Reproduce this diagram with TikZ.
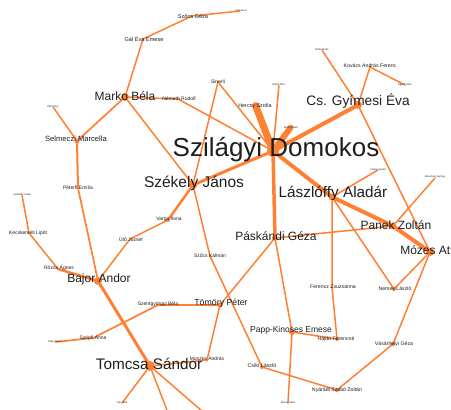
\documentclass[tikz,border=0pt]{standalone}
\usepackage{fontspec}
\setmainfont{Liberation Sans}
\definecolor{edge}{RGB}{255,128,50}
\definecolor{ink}{RGB}{30,30,30}

\begin{document}
\begin{tikzpicture}[x=1pt,y=-1pt,
        dot/.style={circle,fill=edge,inner sep=0pt,minimum size=#1},
        dot/.default=3pt,
        ln/.style={draw=edge,line width=#1,line cap=round},
        ln/.default=1.5pt,
        lbl/.style={text=ink,inner sep=0pt,font=\fontsize{#1}{#1}\selectfont},
        lbl/.default=5.2]
        \clip (0,0) rectangle (451,410);

        % people
        \node[dot=12pt] (sd) at (273,151) {};
        \node[dot=8pt] (marko) at (125,97) {};
        \node[dot] (gal) at (143,39) {};
        \node[dot] (szocsg) at (192,16) {};
        \node[dot=1.5pt] (t1) at (240,11) {};
        \node[dot] (nemeth) at (178,99) {};
        \node[dot] (sinerli) at (218,82) {};
        \node[dot] (hercsy) at (255,104) {};
        \node[dot=1.5pt] (t2) at (279,85) {};
        \node[dot=1.5pt] (t3) at (291,127) {};
        \node[dot=8pt] (csgy) at (358,105) {};
        \node[dot=1.5pt] (t4) at (322,50) {};
        \node[dot] (kaf) at (370,67) {};
        \node[dot=1.5pt] (t5) at (405,85) {};
        \node[dot=7pt] (laszl) at (332,197) {};
        \node[dot=1.5pt] (t6) at (378,170) {};
        \node[dot=7pt] (panek) at (393,226) {};
        \node[dot=1.5pt] (t7) at (435,178) {};
        \node[dot=8pt] (mozes) at (430,252) {};
        \node[dot=6pt] (paskandi) at (275,238) {};
        \node[dot=8pt] (szekely) at (193,185) {};
        \node[dot=5pt] (selmeczi) at (77,141) {};
        \node[dot=1.5pt] (t8) at (53,107) {};
        \node[dot] (peterfi) at (78,188) {};
        \node[dot=8pt] (bajor) at (98,281) {};
        \node[dot=1.5pt] (t9) at (22,195) {};
        \node[dot] (kecsk) at (29,233) {};
        \node[dot] (rozsa) at (58,269) {};
        \node[dot] (uto) at (130,239) {};
        \node[dot=4pt] (varga) at (168,220) {};
        \node[dot] (szocsk) at (210,256) {};
        \node[dot=5pt] (tomory) at (220,305) {};
        \node[dot] (szentgy) at (158,305) {};
        \node[dot] (szepfi) at (93,338) {};
        \node[dot=1.5pt] (t10) at (55,342) {};
        \node[dot=10pt] (tomcsa) at (150,366) {};
        \node[dot] (muszka) at (207,360) {};
        \node[dot=1.5pt] (t11) at (122,403) {};
        \coordinate (off1) at (170,418);
        \coordinate (off2) at (210,418);
        \node[dot=4pt] (csiki) at (262,367) {};
        \node[dot=4pt] (nyaradi) at (337,390) {};
        \node[dot=4pt] (vasarh) at (393,344) {};
        \node[dot=4pt] (nemesl) at (394,289) {};
        \node[dot] (ferencz) at (332,287) {};
        \node[dot=4pt] (hajdu) at (337,339) {};
        \node[dot=6pt] (papp) at (292,332) {};
        \node[dot=1.5pt] (t12) at (288,403) {};

        % heavy ties
        \draw[ln=7pt] (sd)--(hercsy);
        \draw[ln=6pt] (sd)--(t3);
        \draw[ln=4pt] (sd)--(csgy);
        \draw[ln=4pt] (sd)--(laszl);
        \draw[ln=3.5pt] (sd)--(paskandi);
        \draw[ln=3pt] (sd)--(szekely);
        \draw[ln=4pt] (laszl)--(panek);
        \draw[ln=4pt] (panek)--(mozes);
        \draw[ln=2.5pt] (szekely)--(varga);
        \draw[ln=3pt] (bajor)--(tomcsa);
        \draw[ln=2.5pt] (rozsa)--(bajor);
        \draw[ln=2pt] (selmeczi)--(peterfi);

        % light ties
        \draw[ln] (sd)--(t2);
        \draw[ln] (sd)--(nemeth);
        \draw[ln] (sd)--(sinerli);
        \draw[ln] (marko)--(gal)--(szocsg)--(t1);
        \draw[ln] (marko)--(nemeth);
        \draw[ln] (marko)--(szekely);
        \draw[ln=1.7pt] (marko)--(selmeczi);
        \draw[ln] (selmeczi)--(t8);
        \draw[ln=1.7pt] (peterfi)--(bajor);
        \draw[ln] (sinerli)--(szekely);
        \draw[ln] (varga)--(uto)--(bajor);
        \draw[ln] (szekely)--(szocsk)--(csiki);
        \draw[ln] (paskandi)--(tomory);
        \draw[ln] (paskandi)--(papp)--(t12);
        \draw[ln] (paskandi)--(panek);
        \draw[ln] (papp)--(hajdu);
        \draw[ln] (laszl)--(ferencz)--(hajdu);
        \draw[ln] (laszl)--(t6);
        \draw[ln] (laszl)--(nemesl);
        \draw[ln] (panek)--(t7);
        \draw[ln] (csgy)--(t4);
        \draw[ln] (csgy)--(kaf)--(t5);
        \draw[ln] (csgy)--(mozes);
        \draw[ln] (mozes)--(nemesl);
        \draw[ln] (mozes)--(vasarh)--(nyaradi)--(csiki);
        \draw[ln] (t9)--(kecsk)--(rozsa);
        \draw[ln=1.7pt] (tomory)--(szentgy)--(szepfi)--(t10);
        \draw[ln] (tomory)--(muszka)--(tomcsa);
        \draw[ln] (tomcsa)--(t11);
        \draw[ln] (tomcsa)--(off1);
        \draw[ln] (tomcsa)--(off2);

        % names
        \node[lbl=26] (sd-l) at (276,150) {Szilágyi Domokos};
        \node[lbl=12] (marko-l) at (125,96) {Marko Béla};
        \node[lbl=5.6] (gal-l) at (144,39) {Gál Éva Emese};
        \node[lbl=5.6] (szocsg-l) at (193,16) {Szőcs Géza};
        \node[lbl=2.5] (t1-l) at (241,11) {Kiss Ilona};
        \node[lbl=5] (nemeth-l) at (179,99) {Németh Rudolf};
        \node[lbl=5] (sinerli-l) at (218,82) {Sinerli};
        \node[lbl=5.4] (hercsy-l) at (255,106) {Hercsy Szofia};
        \node[lbl=2.5] (t2-l) at (279,85) {Bálint Tibor};
        \node[lbl=2.5] (t3-l) at (291,127) {Bodor Ádám};
        \node[lbl=13.7] (csgy-l) at (358,101) {Cs. Gyímesi Éva};
        \node[lbl=2.5] (t4-l) at (322,50) {Balla Zsófia};
        \node[lbl=5.2] (kaf-l) at (370,66) {Kovács András Ferenc};
        \node[lbl=2.5] (t5-l) at (405,85) {Egyed Péter};
        \node[lbl=15.3] (laszl-l) at (333,193) {Lászlóffy Aladár};
        \node[lbl=2.5] (t6-l) at (378,170) {Farkas Árpád};
        \node[lbl=12] (panek-l) at (396,225) {Panek Zoltán};
        \node[lbl=2.5] (t7-l) at (435,177) {Jánosházy György};
        \node[lbl=12] (mozes-l) at (433,250) {Mózes Attila};
        \node[lbl=12] (paskandi-l) at (276,236) {Páskándi Géza};
        \node[lbl=15.5] (szekely-l) at (194,183) {Székely János};
        \node[lbl=7.6] (selmeczi-l) at (76,139) {Selmeczi Marcella};
        \node[lbl=2.5] (t8-l) at (53,107) {Oláh Tibor};
        \node[lbl=5] (peterfi-l) at (78,188) {Péterfi Emília};
        \node[lbl=12] (bajor-l) at (99,279) {Bajor Andor};
        \node[lbl=2.5] (t9-l) at (22,195) {Lászlóffy Csaba};
        \node[lbl=5] (kecsk-l) at (28,233) {Kecskeméti Lipót};
        \node[lbl=5] (rozsa-l) at (59,268) {Rózsa Ágnes};
        \node[lbl=5] (uto-l) at (131,239) {Ütő József};
        \node[lbl=5] (varga-l) at (169,219) {Varga Ilona};
        \node[lbl=5] (szocsk-l) at (210,256) {Szőcs Kálmán};
        \node[lbl=8.8] (tomory-l) at (221,303) {Tömöry Péter};
        \node[lbl=5] (szentgy-l) at (158,304) {Szentgyörgyi Béla};
        \node[lbl=5] (szepfi-l) at (93,338) {Szépfi Anna};
        \node[lbl=2.5] (t10-l) at (55,342) {Deák Tamás};
        \node[lbl=15.3] (tomcsa-l) at (149,364) {Tomcsa Sándor};
        \node[lbl=5] (muszka-l) at (207,359) {Muszka András};
        \node[lbl=2.5] (t11-l) at (122,403) {Vári Attila};
        \node[lbl=5.4] (csiki-l) at (262,366) {Csiki László};
        \node[lbl=5.2] (nyaradi-l) at (337,390) {Nyárádi Szabó Zoltán};
        \node[lbl=5.2] (vasarh-l) at (394,344) {Vásárhelyi Géza};
        \node[lbl=5.2] (nemesl-l) at (395,289) {Nemes László};
        \node[lbl=5.2] (ferencz-l) at (333,287) {Ferencz Zsuzsanna};
        \node[lbl=5.2] (hajdu-l) at (336,339) {Hajdú Ferencné};
        \node[lbl=8.5] (papp-l) at (291,330) {Papp-Kinoses Emese};
        \node[lbl=2.5] (t12-l) at (288,403) {Mózes Huba};
\end{tikzpicture}
\end{document}
